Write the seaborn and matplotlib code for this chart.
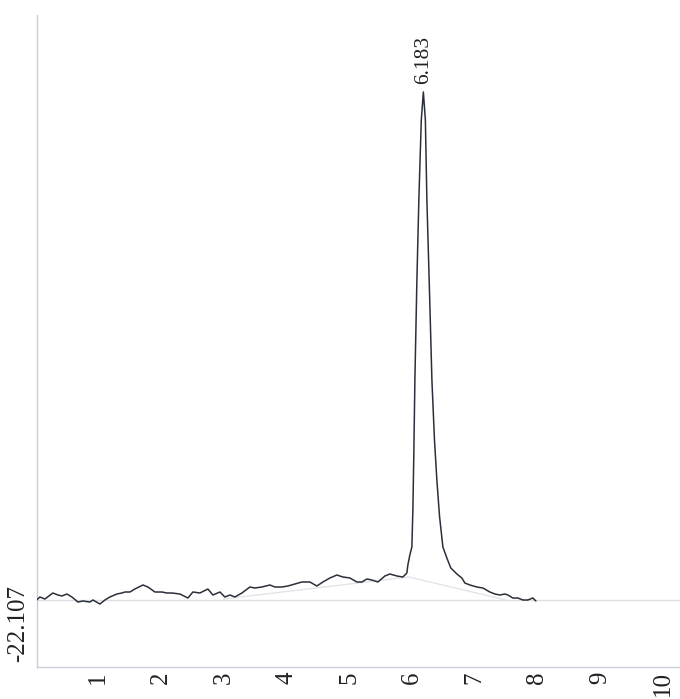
import matplotlib
matplotlib.use('Agg')
import matplotlib.pyplot as plt
import pandas as pd
import seaborn as sns

# retention time (min) of the points
time_min = [0.024, 0.076, 0.156, 0.283, 0.363, 0.427, 0.506, 0.586, 0.682, 0.761,
            0.873, 0.920, 1.032, 1.111, 1.191, 1.303, 1.382, 1.430, 1.510, 1.589,
            1.717, 1.796, 1.908, 2.019, 2.099, 2.178, 2.306, 2.433, 2.513, 2.624,
            2.752, 2.831, 2.943, 3.022, 3.102, 3.182, 3.293, 3.420, 3.500, 3.611,
            3.739, 3.818, 3.930, 4.025, 4.137, 4.248, 4.296, 4.376, 4.487, 4.583,
            4.694, 4.806, 4.901, 5.013, 5.124, 5.204, 5.283, 5.363, 5.459, 5.570,
            5.650, 5.761, 5.857, 5.920, 5.936, 5.968, 6.000, 6.016, 6.032, 6.048,
            6.080, 6.111, 6.150, 6.183, 6.215, 6.239, 6.280, 6.319, 6.360, 6.398,
            6.440, 6.494, 6.557, 6.620, 6.717, 6.796, 6.844, 6.924, 7.035, 7.131,
            7.242, 7.322, 7.401, 7.481, 7.529, 7.608, 7.688, 7.768, 7.847, 7.927,
            7.975]
# detector signal (mV above baseline)
signal = [0.0, 1.5, 0.5, 3.5, 2.5, 2.0, 3.0, 1.5, -1.0, -0.5,
          -1.0, 0.0, -2.0, 0.0, 1.5, 3.0, 3.5, 4.0, 4.0, 5.5,
          7.5, 6.5, 4.0, 4.0, 3.5, 3.5, 3.0, 1.0, 4.0, 3.5,
          5.5, 2.5, 4.0, 1.5, 2.5, 1.5, 3.5, 6.5, 6.0, 6.5,
          7.5, 6.5, 6.5, 7.0, 8.0, 9.0, 9.0, 9.0, 7.0, 9.0,
          11.0, 12.5, 11.5, 11.0, 9.0, 9.0, 10.5, 10.0, 9.0, 12.0,
          13.0, 12.0, 11.5, 13.5, 17.5, 22.5, 26.5, 45.0, 75.0, 110.0,
          160.0, 200.0, 240.0, 254.0, 240.0, 200.0, 155.0, 110.0, 80.0, 60.0,
          42.0, 26.5, 21.0, 16.0, 13.0, 11.0, 8.5, 7.5, 6.5, 6.0,
          4.0, 3.0, 2.5, 3.0, 2.5, 1.0, 1.0, 0.0, 0.0, 1.0,
          -0.5]

# integration baseline under the peak
base_time = [3.0, 5.95, 7.5]
base_signal = [0.5, 11.5, 0.0]

peak_time = 6.183
peak_label = '6.183'
y_label = '-22.107'
x_ticks = [1, 2, 3, 4, 5, 6, 7, 8, 9, 10]

trace = pd.DataFrame({'time': time_min, 'signal': signal})
base = pd.DataFrame({'time': base_time, 'signal': base_signal})

sns.set_style('white')
plt.rcParams['font.family'] = ['Liberation Serif', 'DejaVu Serif']

fig = plt.figure(figsize=(6.8, 6.99), dpi=100)
ax = fig.add_axes([37 / 680, 32 / 699, 1 - 37 / 680, 652 / 699])

ax.axhline(0, color='#dcdee3', lw=1.0, zorder=1)
sns.lineplot(data=base, x='time', y='signal', ax=ax, color='#e2e4e8', lw=1.0, zorder=2)
sns.lineplot(data=trace, x='time', y='signal', ax=ax, color='#2b2f3a', lw=1.1, zorder=3)

ax.text(peak_time, 258, peak_label, rotation=90, ha='center', va='bottom',
        fontsize=15.5, color='#222222')
fig.text(18 / 680, (699 - 624) / 699, y_label, rotation=90, ha='center', va='center',
         fontsize=18, color='#222222')

ax.set_xlim(0.03, 10.27)
ax.set_ylim(-33.5, 292.5)
ax.set_xticks(x_ticks)
ax.set_xticklabels([str(t) for t in x_ticks], rotation=90, fontsize=18, color='#222222')
ax.set_yticks([])
ax.tick_params(axis='x', direction='in', length=5, width=0.8, color='#c8ccd4', pad=3)
ax.set_xlabel('')
ax.set_ylabel('')

for side in ['top', 'right']:
    ax.spines[side].set_visible(False)
ax.spines['left'].set_color('#c5d0de')
ax.spines['bottom'].set_color('#c8ccd4')
ax.spines['left'].set_linewidth(1.0)
ax.spines['bottom'].set_linewidth(1.0)

fig.savefig('out.png', dpi=100)
